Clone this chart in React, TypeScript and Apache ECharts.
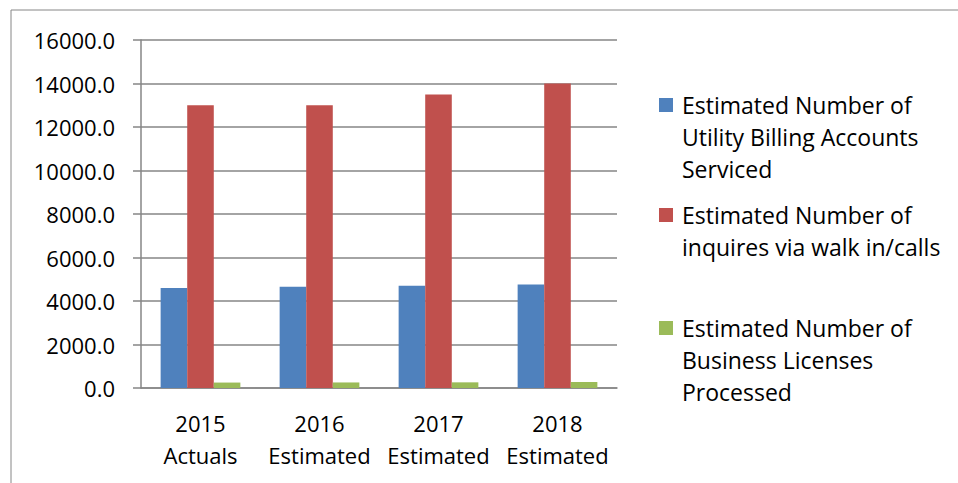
import React, { useEffect, useRef } from "react";
import * as echarts from "echarts";

const categories = ["2015\nActuals", "2016\nEstimated", "2017\nEstimated", "2018\nEstimated"];
const seriesNames = [
  "Estimated Number of\nUtility Billing Accounts\nServiced",
  "Estimated Number of\ninquires via walk in/calls",
  "Estimated Number of\nBusiness Licenses\nProcessed",
];
const utilityAccounts = [4600, 4650, 4700, 4760];
const inquiries = [13000, 13000, 13500, 14000];
const businessLicenses = [250, 255, 260, 275];
const colors = ["#4F81BD", "#C0504D", "#9BBB59"];

const FONT = "'Open Sans', sans-serif";
const FS = 22;
const LFS = 23;
const LH = 32;

export default function App() {
  const ref = useRef<HTMLDivElement>(null);
  useEffect(() => {
    if (!ref.current) return;
    const chart = echarts.init(ref.current, undefined, { renderer: "svg" });
    const lines = (s: string) => s.split("\n").length;
    const legendTops = [25, 167, 248];
    const legends = seriesNames.map((name, i) => ({
      data: [name],
      orient: "vertical",
      left: 659,
      top: legendTops[i],
      padding: 0,
      itemWidth: 14,
      itemHeight: 14,
      icon: "rect",
      selectedMode: false,
      formatter: (n: string) => "\n".repeat(lines(n) - 1) + n,
      textStyle: {
        fontFamily: FONT,
        fontSize: LFS,
        lineHeight: LH,
        color: "#000",
        padding: [0, 0, 0, 4],
      },
    }));
    chart.setOption({
      animation: false,
      backgroundColor: "#fff",
      color: colors,
      textStyle: { fontFamily: FONT },
      graphic: [
        {
          type: "rect",
          shape: { x: 11, y: 10, width: 1200, height: 1000 },
          style: { fill: "none", stroke: "#868686", lineWidth: 1 },
          silent: true,
        },
      ],
      legend: legends,
      grid: { left: 141, right: 341, top: 40, bottom: 95, containLabel: false },
      xAxis: {
        type: "category",
        data: categories,
        axisLine: { lineStyle: { color: "#868686", width: 1.5 } },
        axisTick: { length: 8, lineStyle: { color: "#868686", width: 1.5 } },
        axisLabel: {
          interval: 0,
          fontFamily: FONT,
          fontSize: FS,
          lineHeight: LH,
          color: "#000",
          margin: 19,
        },
      },
      yAxis: {
        type: "value",
        min: 0,
        max: 16000,
        interval: 2000,
        axisLine: { show: true, lineStyle: { color: "#868686", width: 1.5 } },
        axisTick: { show: true, length: 8, lineStyle: { color: "#868686", width: 1.5 } },
        splitLine: { lineStyle: { color: "#868686", width: 1.5 } },
        axisLabel: {
          fontFamily: FONT,
          fontSize: FS,
          color: "#000",
          margin: 26,
          formatter: (v: number) => v.toFixed(1),
        },
      },
      series: [utilityAccounts, inquiries, businessLicenses].map((d, i) => ({
        type: "bar",
        name: seriesNames[i],
        data: d,
        barGap: "0%",
        barCategoryGap: "33%",
        itemStyle: { color: colors[i] },
      })),
    });
    return () => chart.dispose();
  }, []);
  return <div ref={ref} style={{ width: 958, height: 483, position: "absolute", left: 0, top: 0 }} />;
}
